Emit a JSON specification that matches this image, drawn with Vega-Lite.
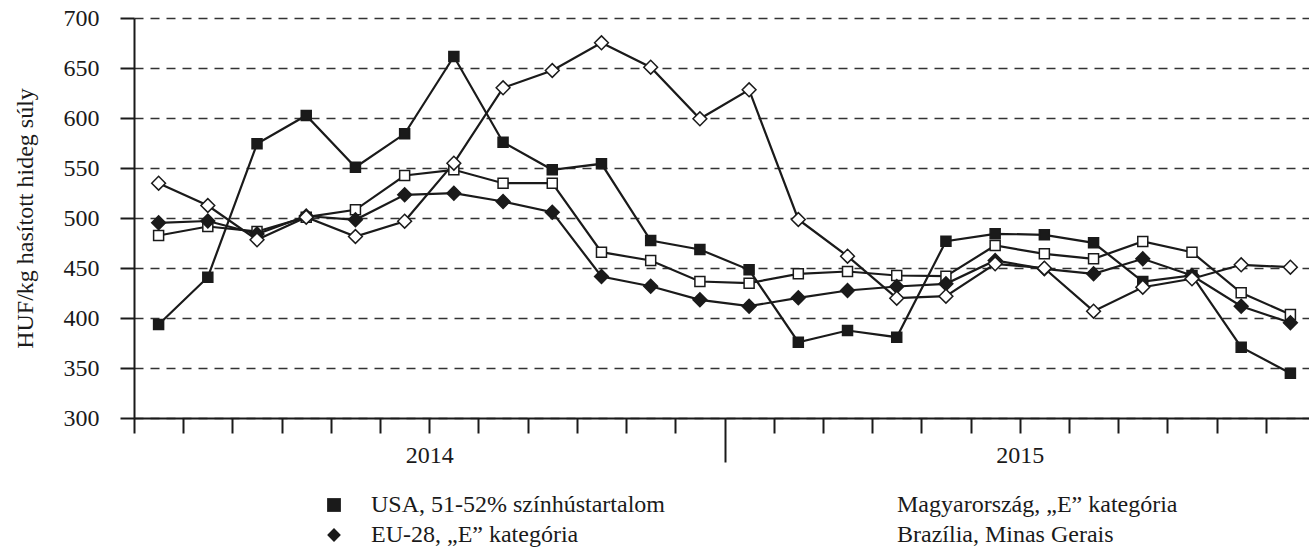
{
  "$schema": "https://vega.github.io/schema/vega-lite/v6.json",
  "width": 1175,
  "height": 400,
  "autosize": "none",
  "padding": {"left": 134, "top": 18, "right": 0, "bottom": 135},
  "background": "white",
  "config": {"view": {"stroke": null}, "font": "Liberation Serif",
    "legend": {
      "title": null, "orient": "none", "legendX": 188, "legendY": 475, "columns": 2, "columnPadding": 183, "rowPadding": 6,
      "symbolSize": 190, "labelOffset": 25, "labelFont": "Liberation Serif", "labelFontSize": 24, "labelColor": "#1a1a1a", "labelLimit": 0, "padding": 0,
      "symbolStrokeColor": "#1a1a1a", "symbolStrokeWidth": 1.5
    }
  },
  "data": {"values": [
    {"m": "2014-01", "s": "USA, 51-52% színhústartalom", "v": 393.5},
    {"m": "2014-02", "s": "USA, 51-52% színhústartalom", "v": 440.8},
    {"m": "2014-03", "s": "USA, 51-52% színhústartalom", "v": 574.2},
    {"m": "2014-04", "s": "USA, 51-52% színhústartalom", "v": 602.5},
    {"m": "2014-05", "s": "USA, 51-52% színhústartalom", "v": 550.8},
    {"m": "2014-06", "s": "USA, 51-52% színhústartalom", "v": 584.2},
    {"m": "2014-07", "s": "USA, 51-52% színhústartalom", "v": 661.5},
    {"m": "2014-08", "s": "USA, 51-52% színhústartalom", "v": 575.8},
    {"m": "2014-09", "s": "USA, 51-52% színhústartalom", "v": 548.2},
    {"m": "2014-10", "s": "USA, 51-52% színhústartalom", "v": 554.2},
    {"m": "2014-11", "s": "USA, 51-52% színhústartalom", "v": 477.5},
    {"m": "2014-12", "s": "USA, 51-52% színhústartalom", "v": 468.5},
    {"m": "2015-01", "s": "USA, 51-52% színhústartalom", "v": 448.2},
    {"m": "2015-02", "s": "USA, 51-52% színhústartalom", "v": 375.8},
    {"m": "2015-03", "s": "USA, 51-52% színhústartalom", "v": 387.5},
    {"m": "2015-04", "s": "USA, 51-52% színhústartalom", "v": 380.8},
    {"m": "2015-05", "s": "USA, 51-52% színhústartalom", "v": 476.8},
    {"m": "2015-06", "s": "USA, 51-52% színhústartalom", "v": 484.2},
    {"m": "2015-07", "s": "USA, 51-52% színhústartalom", "v": 483.2},
    {"m": "2015-08", "s": "USA, 51-52% színhústartalom", "v": 475.2},
    {"m": "2015-09", "s": "USA, 51-52% színhústartalom", "v": 436.5},
    {"m": "2015-10", "s": "USA, 51-52% színhústartalom", "v": 442.5},
    {"m": "2015-11", "s": "USA, 51-52% színhústartalom", "v": 370.8},
    {"m": "2015-12", "s": "USA, 51-52% színhústartalom", "v": 344.8},
    {"m": "2014-01", "s": "Magyarország, „E” kategória", "v": 482.5},
    {"m": "2014-02", "s": "Magyarország, „E” kategória", "v": 491.5},
    {"m": "2014-03", "s": "Magyarország, „E” kategória", "v": 486.5},
    {"m": "2014-04", "s": "Magyarország, „E” kategória", "v": 500.8},
    {"m": "2014-05", "s": "Magyarország, „E” kategória", "v": 508.2},
    {"m": "2014-06", "s": "Magyarország, „E” kategória", "v": 542.5},
    {"m": "2014-07", "s": "Magyarország, „E” kategória", "v": 548.2},
    {"m": "2014-08", "s": "Magyarország, „E” kategória", "v": 534.8},
    {"m": "2014-09", "s": "Magyarország, „E” kategória", "v": 534.8},
    {"m": "2014-10", "s": "Magyarország, „E” kategória", "v": 465.8},
    {"m": "2014-11", "s": "Magyarország, „E” kategória", "v": 457.5},
    {"m": "2014-12", "s": "Magyarország, „E” kategória", "v": 436.5},
    {"m": "2015-01", "s": "Magyarország, „E” kategória", "v": 434.8},
    {"m": "2015-02", "s": "Magyarország, „E” kategória", "v": 444.2},
    {"m": "2015-03", "s": "Magyarország, „E” kategória", "v": 446.5},
    {"m": "2015-04", "s": "Magyarország, „E” kategória", "v": 442.5},
    {"m": "2015-05", "s": "Magyarország, „E” kategória", "v": 441.8},
    {"m": "2015-06", "s": "Magyarország, „E” kategória", "v": 472.5},
    {"m": "2015-07", "s": "Magyarország, „E” kategória", "v": 464.2},
    {"m": "2015-08", "s": "Magyarország, „E” kategória", "v": 459.2},
    {"m": "2015-09", "s": "Magyarország, „E” kategória", "v": 476.5},
    {"m": "2015-10", "s": "Magyarország, „E” kategória", "v": 465.8},
    {"m": "2015-11", "s": "Magyarország, „E” kategória", "v": 425.2},
    {"m": "2015-12", "s": "Magyarország, „E” kategória", "v": 403.5},
    {"m": "2014-01", "s": "EU-28, „E” kategória", "v": 495.2},
    {"m": "2014-02", "s": "EU-28, „E” kategória", "v": 497.0},
    {"m": "2014-03", "s": "EU-28, „E” kategória", "v": 484.0},
    {"m": "2014-04", "s": "EU-28, „E” kategória", "v": 502.0},
    {"m": "2014-05", "s": "EU-28, „E” kategória", "v": 498.2},
    {"m": "2014-06", "s": "EU-28, „E” kategória", "v": 523.2},
    {"m": "2014-07", "s": "EU-28, „E” kategória", "v": 524.8},
    {"m": "2014-08", "s": "EU-28, „E” kategória", "v": 516.5},
    {"m": "2014-09", "s": "EU-28, „E” kategória", "v": 505.8},
    {"m": "2014-10", "s": "EU-28, „E” kategória", "v": 441.5},
    {"m": "2014-11", "s": "EU-28, „E” kategória", "v": 431.8},
    {"m": "2014-12", "s": "EU-28, „E” kategória", "v": 418.2},
    {"m": "2015-01", "s": "EU-28, „E” kategória", "v": 411.8},
    {"m": "2015-02", "s": "EU-28, „E” kategória", "v": 420.2},
    {"m": "2015-03", "s": "EU-28, „E” kategória", "v": 427.5},
    {"m": "2015-04", "s": "EU-28, „E” kategória", "v": 431.5},
    {"m": "2015-05", "s": "EU-28, „E” kategória", "v": 434.2},
    {"m": "2015-06", "s": "EU-28, „E” kategória", "v": 457.5},
    {"m": "2015-07", "s": "EU-28, „E” kategória", "v": 449.2},
    {"m": "2015-08", "s": "EU-28, „E” kategória", "v": 444.2},
    {"m": "2015-09", "s": "EU-28, „E” kategória", "v": 459.2},
    {"m": "2015-10", "s": "EU-28, „E” kategória", "v": 442.5},
    {"m": "2015-11", "s": "EU-28, „E” kategória", "v": 411.8},
    {"m": "2015-12", "s": "EU-28, „E” kategória", "v": 395.2},
    {"m": "2014-01", "s": "Brazília, Minas Gerais", "v": 534.8},
    {"m": "2014-02", "s": "Brazília, Minas Gerais", "v": 512.5},
    {"m": "2014-03", "s": "Brazília, Minas Gerais", "v": 478.2},
    {"m": "2014-04", "s": "Brazília, Minas Gerais", "v": 500.8},
    {"m": "2014-05", "s": "Brazília, Minas Gerais", "v": 481.5},
    {"m": "2014-06", "s": "Brazília, Minas Gerais", "v": 496.8},
    {"m": "2014-07", "s": "Brazília, Minas Gerais", "v": 554.8},
    {"m": "2014-08", "s": "Brazília, Minas Gerais", "v": 630.2},
    {"m": "2014-09", "s": "Brazília, Minas Gerais", "v": 647.5},
    {"m": "2014-10", "s": "Brazília, Minas Gerais", "v": 675.2},
    {"m": "2014-11", "s": "Brazília, Minas Gerais", "v": 650.8},
    {"m": "2014-12", "s": "Brazília, Minas Gerais", "v": 599.2},
    {"m": "2015-01", "s": "Brazília, Minas Gerais", "v": 628.2},
    {"m": "2015-02", "s": "Brazília, Minas Gerais", "v": 498.5},
    {"m": "2015-03", "s": "Brazília, Minas Gerais", "v": 461.8},
    {"m": "2015-04", "s": "Brazília, Minas Gerais", "v": 419.8},
    {"m": "2015-05", "s": "Brazília, Minas Gerais", "v": 421.8},
    {"m": "2015-06", "s": "Brazília, Minas Gerais", "v": 454.2},
    {"m": "2015-07", "s": "Brazília, Minas Gerais", "v": 449.8},
    {"m": "2015-08", "s": "Brazília, Minas Gerais", "v": 406.8},
    {"m": "2015-09", "s": "Brazília, Minas Gerais", "v": 430.8},
    {"m": "2015-10", "s": "Brazília, Minas Gerais", "v": 439.2},
    {"m": "2015-11", "s": "Brazília, Minas Gerais", "v": 453.2},
    {"m": "2015-12", "s": "Brazília, Minas Gerais", "v": 450.8}
  ]},
  "encoding": {
    "x": {
      "field": "m", "type": "ordinal",
      "scale": {"type": "band", "range": [0, 1181], "paddingInner": 0, "paddingOuter": 0},
      "axis": {
        "title": null, "grid": false, "tickBand": "extent",
        "tickSize": {"condition": {"test": "datum.value === '2014-12' || datum.extra === true", "value": 44}, "value": 15},
        "tickWidth": 2, "tickColor": "#1a1a1a",
        "domainColor": "#1a1a1a", "domainWidth": 2,
        "labelExpr": "datum.value === '2014-07' ? '2014' : datum.value === '2015-07' ? '2015' : ''",
        "labelOffset": -24.6, "labelPadding": 10, "labelAngle": 0, "labelOverlap": false, "labelBound": false,
        "labelFont": "Liberation Serif", "labelFontSize": 24, "labelColor": "#1a1a1a"
      }
    },
    "y": {
      "field": "v", "type": "quantitative",
      "scale": {"domain": [300, 700], "nice": false, "zero": false},
      "axis": {
        "title": "HUF/kg hasított hideg súly",
        "values": [300, 350, 400, 450, 500, 550, 600, 650, 700],
        "tickSize": 14, "tickWidth": 2, "tickColor": "#1a1a1a",
        "domainColor": "#1a1a1a", "domainWidth": 2,
        "labelFont": "Liberation Serif", "labelFontSize": 24, "labelColor": "#1a1a1a", "labelPadding": 21,
        "grid": true, "gridDash": [9, 7], "gridColor": "#333333", "gridWidth": 1.3,
        "titleFont": "Liberation Serif", "titleFontSize": 24, "titleFontWeight": "normal", "titleColor": "#1a1a1a",
        "titleX": -109, "titleY": 200, "titleAngle": -90, "titleAlign": "center", "titleBaseline": "middle"
      }
    },
    "shape": {
      "field": "s", "type": "nominal",
      "scale": {"domain": ["USA, 51-52% színhústartalom", "EU-28, „E” kategória", "Magyarország, „E” kategória", "Brazília, Minas Gerais"], "range": ["square", "diamond", "square", "diamond"]}
    },
    "fill": {
      "field": "s", "type": "nominal",
      "scale": {"domain": ["USA, 51-52% színhústartalom", "EU-28, „E” kategória", "Magyarország, „E” kategória", "Brazília, Minas Gerais"], "range": ["#1a1a1a", "#1a1a1a", "#ffffff", "#ffffff"]}
    }
  },
  "layer": [
    {
      "mark": {"type": "line", "stroke": "#1a1a1a", "strokeWidth": 2.2},
      "encoding": {"detail": {"field": "s", "type": "nominal"}, "shape": null, "fill": null}
    },
    {
      "transform": [{"filter": {"field": "s", "oneOf": ["USA, 51-52% színhústartalom", "Magyarország, „E” kategória"]}}],
      "mark": {"type": "point", "filled": true, "stroke": "#1a1a1a", "strokeWidth": 1.5, "opacity": 1, "size": 100}
    },
    {
      "transform": [{"filter": {"field": "s", "oneOf": ["EU-28, „E” kategória", "Brazília, Minas Gerais"]}}],
      "mark": {"type": "point", "filled": true, "stroke": "#1a1a1a", "strokeWidth": 1.5, "opacity": 1, "size": 190}
    }
  ]
}
